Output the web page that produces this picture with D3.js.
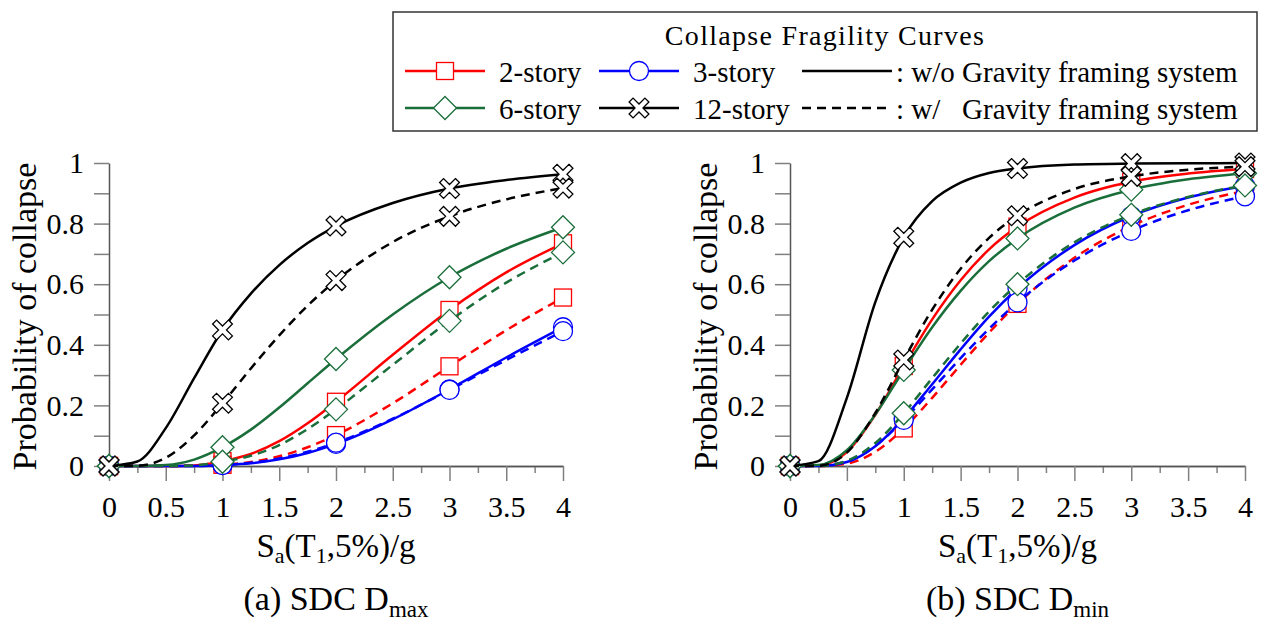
<!DOCTYPE html>
<html>
  <head>
    <meta charset="utf-8" />
    <title>Collapse Fragility Curves</title>
    <script src="https://d3js.org/d3.v7.min.js"></script>
    <style>
      body {
        margin: 0;
        background: #fff;
      }
      .curve {
        fill: none;
        stroke-width: 2.5;
      }
      .axis .domain {
        stroke: #555;
        stroke-width: 1.5;
      }
      .axis .tick line {
        stroke: #808080;
        stroke-width: 1.5;
      }
    </style>
  </head>
  <body>
    <svg id="chart" width="1263" height="623"></svg>
    <script>
      const sa = [0, 0.25, 0.5, 0.75, 1, 1.25, 1.5, 1.75, 2, 2.5, 3, 3.5, 4];
      // markers sit at the integer Sa values
      const markerSa = [0, 1, 2, 3, 4];

      // (a) SDC Dmax  -- wo = without gravity framing, w = with
      const dmax2wo = [0, 0, 0, 0.002, 0.016, 0.04, 0.082, 0.141, 0.212, 0.367, 0.515, 0.639, 0.735];
      const dmax2w = [0, 0, 0, 0.001, 0.004, 0.013, 0.032, 0.062, 0.102, 0.207, 0.329, 0.448, 0.556];
      const dmax3wo = [0, 0, 0, 0, 0.003, 0.009, 0.022, 0.043, 0.073, 0.154, 0.253, 0.358, 0.458];
      const dmax3w = [0, 0, 0, 0, 0.003, 0.011, 0.025, 0.047, 0.077, 0.156, 0.251, 0.35, 0.445];
      const dmax6wo = [0, 0, 0.003, 0.021, 0.062, 0.12, 0.193, 0.273, 0.353, 0.5, 0.623, 0.717, 0.788];
      const dmax6w = [0, 0, 0, 0.002, 0.014, 0.034, 0.069, 0.122, 0.187, 0.334, 0.479, 0.605, 0.705];
      const dmax12wo = [0, 0.015, 0.125, 0.29, 0.449, 0.569, 0.663, 0.736, 0.792, 0.868, 0.916, 0.944, 0.963];
      const dmax12w = [0, 0.001, 0.027, 0.101, 0.207, 0.322, 0.431, 0.529, 0.612, 0.739, 0.824, 0.88, 0.917];

      // (b) SDC Dmin
      const dmin2wo = [0, 0.002, 0.046, 0.169, 0.33, 0.484, 0.613, 0.715, 0.79, 0.886, 0.938, 0.965, 0.98];
      const dmin2w = [0, 0, 0.008, 0.047, 0.124, 0.225, 0.334, 0.44, 0.535, 0.687, 0.792, 0.862, 0.908];
      const dmin3wo = [0, 0, 0.013, 0.065, 0.157, 0.27, 0.385, 0.493, 0.586, 0.729, 0.825, 0.886, 0.925];
      const dmin3w = [0, 0.001, 0.016, 0.067, 0.152, 0.253, 0.356, 0.453, 0.54, 0.678, 0.776, 0.844, 0.89];
      const dmin6wo = [0, 0.003, 0.052, 0.17, 0.317, 0.458, 0.578, 0.676, 0.751, 0.853, 0.912, 0.946, 0.966];
      const dmin6w = [0, 0, 0.017, 0.076, 0.174, 0.29, 0.404, 0.51, 0.6, 0.738, 0.829, 0.888, 0.926];
      const dmin12wo = [0, 0.016, 0.225, 0.541, 0.755, 0.874, 0.935, 0.967, 0.982, 0.995, 0.998, 0.999, 1.0];
      const dmin12w = [0, 0.001, 0.044, 0.175, 0.35, 0.516, 0.651, 0.753, 0.826, 0.914, 0.956, 0.978, 0.988];

      const stories = ['2-story', '3-story', '6-story', '12-story'];
      const systemLabels = [': w/o Gravity framing system', ': w/   Gravity framing system'];
      const xTicks = [0, 0.5, 1, 1.5, 2, 2.5, 3, 3.5, 4];
      const xMinorTicks = [0.25, 0.75, 1.25, 1.75, 2.25, 2.75, 3.25, 3.75];
      const yTicks = [0, 0.1, 0.2, 0.3, 0.4, 0.5, 0.6, 0.7, 0.8, 0.9, 1];

      const storyColor = {
        '2-story': '#ff0000',
        '3-story': '#0000ff',
        '6-story': '#1a6e3a',
        '12-story': '#000000',
      };
      const storyMarker = {
        '2-story': 'square',
        '3-story': 'circle',
        '6-story': 'diamond',
        '12-story': 'cross',
      };

      const panels = [
        {
          left: 109,
          right: 563,
          caption: '(a) SDC D',
          sub: 'max',
          series: [
            ['2-story', false, dmax2wo], ['2-story', true, dmax2w],
            ['3-story', false, dmax3wo], ['3-story', true, dmax3w],
            ['6-story', false, dmax6wo], ['6-story', true, dmax6w],
            ['12-story', false, dmax12wo], ['12-story', true, dmax12w],
          ],
        },
        {
          left: 790,
          right: 1245,
          caption: '(b) SDC D',
          sub: 'min',
          series: [
            ['2-story', false, dmin2wo], ['2-story', true, dmin2w],
            ['3-story', false, dmin3wo], ['3-story', true, dmin3w],
            ['6-story', false, dmin6wo], ['6-story', true, dmin6w],
            ['12-story', false, dmin12wo], ['12-story', true, dmin12w],
          ],
        },
      ];

      const serif = '"Liberation Serif", "Times New Roman", "DejaVu Serif", serif';
      const svg = d3.select('#chart').style('font-family', serif);
      const plotTop = 163;
      const plotBottom = 466;
      const dash = '9,6';

      // draw one marker centred at 0,0 inside g
      function marker(g, type, color) {
        if (type === 'square') {
          g.append('rect').attr('x', -8.5).attr('y', -8.5).attr('width', 17).attr('height', 17)
            .attr('fill', '#fff').attr('stroke', color).attr('stroke-width', 1.3);
        } else if (type === 'circle') {
          g.append('circle').attr('r', 9.5)
            .attr('fill', '#fff').attr('stroke', color).attr('stroke-width', 1.3);
        } else if (type === 'diamond') {
          g.append('path').attr('d', 'M0,-11.5L11.5,0L0,11.5L-11.5,0Z')
            .attr('fill', '#fff').attr('stroke', color).attr('stroke-width', 1.3);
        } else {
          const a = 2.8, b = 11.2;
          g.append('path')
            .attr('d', `M${-a},${-b}L${a},${-b}L${a},${-a}L${b},${-a}L${b},${a}L${a},${a}L${a},${b}L${-a},${b}L${-a},${a}L${-b},${a}L${-b},${-a}L${-a},${-a}Z`)
            .attr('transform', 'rotate(45)')
            .attr('fill', '#fff').attr('stroke', color).attr('stroke-width', 1.3);
        }
      }

      panels.forEach((p) => {
        const x = d3.scaleLinear().domain([0, 4]).range([p.left, p.right]);
        const y = d3.scaleLinear().domain([0, 1]).range([plotBottom, plotTop]);

        // axes
        svg.append('g').attr('class', 'axis')
          .attr('transform', `translate(0,${plotBottom})`)
          .call(d3.axisBottom(x).tickValues(xMinorTicks).tickSize(7).tickSizeOuter(0).tickFormat(''));
        const xa = svg.append('g').attr('class', 'axis')
          .attr('transform', `translate(0,${plotBottom})`)
          .call(d3.axisBottom(x).tickValues(xTicks).tickSize(15).tickSizeOuter(0).tickPadding(15)
            .tickFormat((d) => String(d)));
        const ya = svg.append('g').attr('class', 'axis')
          .attr('transform', `translate(${p.left},0)`)
          .call(d3.axisLeft(y).tickValues(yTicks).tickSize(15).tickSizeOuter(0).tickPadding(10)
            .tickFormat((d) => (Math.round(d * 10) % 2 === 0 ? String(d) : '')));
        [xa, ya].forEach((a) => a.attr('font-family', serif).attr('font-size', 30)
          .selectAll('text').style('font-family', serif).style('font-size', '30px'));

        // curves
        const line = d3.line()
          .x((d) => x(d[0]))
          .y((d) => y(d[1]))
          .curve(d3.curveMonotoneX);

        p.series.forEach(([story, dashed, vals]) => {
          const pts = sa.map((s, i) => [s, vals[i]]);
          svg.append('path')
            .attr('class', 'curve')
            .attr('d', line(pts))
            .attr('stroke', storyColor[story])
            .attr('stroke-dasharray', dashed ? dash : null);

          markerSa.forEach((s) => {
            const v = vals[sa.indexOf(s)];
            const g = svg.append('g').attr('transform', `translate(${x(s)},${y(v)})`);
            marker(g, storyMarker[story], storyColor[story]);
          });
        });

        // axis titles
        const cx = (p.left + p.right) / 2;
        const xt = svg.append('text').attr('x', cx).attr('y', 557)
          .attr('text-anchor', 'middle').style('font-family', serif).style('font-size', '33px');
        xt.append('tspan').text('S');
        xt.append('tspan').attr('dy', 6).style('font-size', '22px').text('a');
        xt.append('tspan').attr('dy', -6).text('(T');
        xt.append('tspan').attr('dy', 6).style('font-size', '22px').text('1');
        xt.append('tspan').attr('dy', -6).text(',5%)/g');

        svg.append('text')
          .attr('transform', `translate(${p.left - 73},${(plotTop + plotBottom) / 2 + 2}) rotate(-90)`)
          .attr('text-anchor', 'middle')
          .style('font-family', serif)
          .style('font-size', '34px')
          .text('Probability of collapse');

        const cap = svg.append('text').attr('x', cx).attr('y', 610)
          .attr('text-anchor', 'middle').style('font-family', serif).style('font-size', '34px');
        cap.append('tspan').text(p.caption);
        cap.append('tspan').attr('dy', 7).style('font-size', '23px').text(p.sub);
      });

      // legend
      const lg = svg.append('g');
      lg.append('rect')
        .attr('x', 393).attr('y', 12).attr('width', 864).attr('height', 119)
        .attr('fill', '#fff').attr('stroke', '#333').attr('stroke-width', 1.5);
      lg.append('text')
        .attr('x', 825).attr('y', 45)
        .attr('text-anchor', 'middle')
        .style('font-family', serif)
        .style('font-size', '28px')
        .style('letter-spacing', '1.3px')
        .text('Collapse Fragility Curves');

      const rowY = [71, 108];
      stories.forEach((s, i) => {
        const col = i % 2;
        const row = Math.floor(i / 2);
        const x0 = 405 + col * 194;
        const yy = rowY[row];
        lg.append('line')
          .attr('x1', x0).attr('x2', x0 + 80).attr('y1', yy).attr('y2', yy)
          .attr('stroke', storyColor[s]).attr('stroke-width', 2.5);
        marker(lg.append('g').attr('transform', `translate(${x0 + 40},${yy})`), storyMarker[s], storyColor[s]);
        lg.append('text')
          .attr('x', x0 + 94).attr('y', yy + 11)
          .style('font-family', serif)
          .style('font-size', '29px')
          .text(s);
      });

      systemLabels.forEach((t, i) => {
        const yy = rowY[i];
        lg.append('line')
          .attr('x1', 802).attr('x2', 892).attr('y1', yy).attr('y2', yy)
          .attr('stroke', '#000').attr('stroke-width', 2.5)
          .attr('stroke-dasharray', i === 1 ? dash : null);
        lg.append('text')
          .attr('x', 896).attr('y', yy + 11)
          .style('font-family', serif)
          .style('font-size', '29px')
          .style('white-space', 'pre')
          .text(t);
      });
    </script>
  </body>
</html>
